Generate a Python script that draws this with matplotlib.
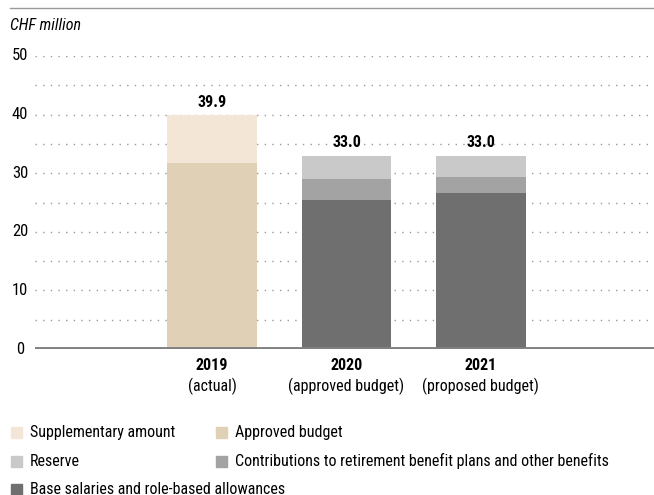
import matplotlib.pyplot as plt
import numpy as np
from matplotlib.patches import Rectangle

plt.rcParams['font.family'] = ['Roboto Condensed', 'DejaVu Sans']

years = ["2019", "2020", "2021"]
subtitles = ["(actual)", "(approved budget)", "(proposed budget)"]
base = [0, 25.4, 26.6]
contrib = [0, 3.6, 2.7]
reserve = [0, 4.0, 3.7]
approved = [31.7, 0, 0]
supplementary = [8.2, 0, 0]
totals = ["39.9", "33.0", "33.0"]

c_supp = "#f3e6d6"
c_appr = "#e0d0b6"
c_res = "#c9c9c9"
c_con = "#a3a3a3"
c_base = "#6f6f6f"

W, H = 654, 495
fig = plt.figure(figsize=(6.54, 4.95), dpi=100)
ax = fig.add_axes([35/W, 1-349/H, 1-35/W, (349-56)/H])

x = np.arange(3)
w = 0.67
b = np.array(base)
ax.bar(x, base, w, color=c_base, zorder=2)
ax.bar(x, contrib, w, bottom=b, color=c_con, zorder=2)
b = b + np.array(contrib)
ax.bar(x, reserve, w, bottom=b, color=c_res, zorder=2)
ax.bar(x, approved, w, color=c_appr, zorder=2)
ax.bar(x, supplementary, w, bottom=approved, color=c_supp, zorder=2)

tops = np.array(base) + np.array(contrib) + np.array(reserve) + np.array(approved) + np.array(supplementary)
for xi, t, lab in zip(x, tops, totals):
    ax.text(xi, t + 0.9, lab, ha='center', va='bottom', fontsize=11.5, fontweight='bold')

ax.set_xlim(-1.32, 3.29)
ax.set_ylim(0, 50)
for yv in np.arange(5, 51, 5):
    ax.axhline(yv, color='#999999', linestyle=(0, (1, 4.5)), linewidth=1, zorder=1)
ax.axhline(0, color='#808080', linewidth=3.5, zorder=3)

for s in ax.spines.values():
    s.set_visible(False)
ax.set_xticks([])
ax.set_yticks([])
for yv in np.arange(0, 51, 10):
    ax.text(-15/619, yv, str(yv), transform=ax.get_yaxis_transform(),
            ha='center', va='center', fontsize=12)

for xi, yr, st in zip(x, years, subtitles):
    ax.text(xi, -1.6, yr, ha='center', va='top', fontsize=11.5, fontweight='bold')
    ax.text(xi, -4.9, st, ha='center', va='top', fontsize=11.5)

fig.text(10/W, 1-25/H, "CHF million", fontsize=11.5, style='italic', va='center')
fig.add_artist(plt.Line2D([10/W, 1], [1-8/H, 1-8/H], color='#999999', linewidth=1))

# legend, laid out as in the original: two columns, three rows
leg_colors = [c_supp, c_appr, c_res, c_con, c_base]
leg_labels = ["Supplementary amount", "Approved budget", "Reserve",
              "Contributions to retirement benefit plans and other benefits",
              "Base salaries and role-based allowances"]
col_x = [11, 216]
row_y = [432, 461, 489]
for i, (c, lab) in enumerate(zip(leg_colors, leg_labels)):
    px = col_x[i % 2]
    py = row_y[i // 2]
    fig.add_artist(Rectangle((px/W, 1-(py+5.5)/H), 11/W, 11/H, color=c,
                             transform=fig.transFigure))
    fig.text((px+19)/W, 1-py/H, lab, fontsize=11.5, va='center')

fig.savefig("out.png", dpi=100)
